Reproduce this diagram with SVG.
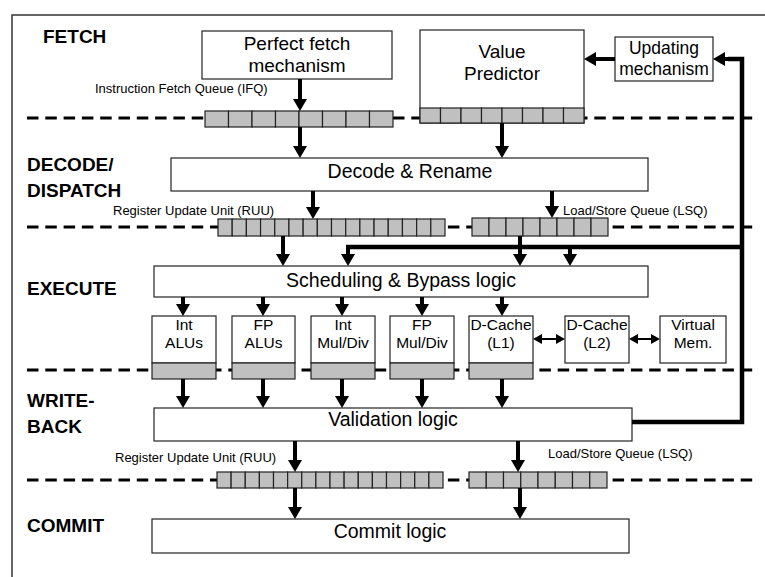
<svg xmlns="http://www.w3.org/2000/svg" width="765" height="577" viewBox="0 0 765 577">
<style>
.box{fill:#fff;stroke:#222;stroke-width:1.2}
.cell{fill:#c0c0c0;stroke:#222;stroke-width:1.2}
.dash{stroke:#000;stroke-width:3;stroke-dasharray:11.5 6.8;fill:none}
.arr{stroke:#000;stroke-width:4;fill:none;marker-end:url(#ah)}
.fb{stroke:#000;stroke-width:4.5;fill:none}
.dbl{stroke:#000;stroke-width:2;fill:none;marker-start:url(#sh);marker-end:url(#sh)}
.stage{font-family:"Liberation Sans",Arial,sans-serif;font-weight:bold;font-size:19px;fill:#000}
.big{font-family:"Liberation Sans",Arial,sans-serif;font-size:19px;fill:#000;text-anchor:middle}
.mid{font-family:"Liberation Sans",Arial,sans-serif;font-size:17.5px;fill:#000;text-anchor:middle}
.unit{font-family:"Liberation Sans",Arial,sans-serif;font-size:15.5px;fill:#000;text-anchor:middle}
.small{font-family:"Liberation Sans",Arial,sans-serif;font-size:13px;fill:#000}
</style>
<defs>
<marker id="ah" markerUnits="userSpaceOnUse" markerWidth="14" markerHeight="14" viewBox="0 0 12 14" refX="2" refY="7" orient="auto"><path d="M0,0 L12,7 L0,14 z" fill="#000"/></marker>
<marker id="sh" markerUnits="userSpaceOnUse" markerWidth="10" markerHeight="10" viewBox="0 0 9 10" refX="1" refY="5" orient="auto-start-reverse"><path d="M0,0 L9,5 L0,10 z" fill="#000"/></marker>
<g id="q8a"><rect class="cell" x="0" y="0" width="23.5" height="16"/></g>
</defs>

<path d="M12,577 L12,15 L765,15" fill="none" stroke="#333" stroke-width="1.5"/>

<g id="dividers">
<line class="dash" x1="27" y1="118" x2="757" y2="118"/>
<line class="dash" x1="27" y1="227" x2="757" y2="227"/>
<line class="dash" x1="27" y1="370" x2="757" y2="370"/>
<line class="dash" x1="27" y1="480" x2="757" y2="480"/>
</g>

<g id="stages">
<text class="stage" x="43" y="43">FETCH</text>
<text class="stage" x="27" y="171">DECODE/</text>
<text class="stage" x="27" y="197">DISPATCH</text>
<text class="stage" x="27" y="295">EXECUTE</text>
<text class="stage" x="27" y="407">WRITE-</text>
<text class="stage" x="27" y="433">BACK</text>
<text class="stage" x="27" y="532">COMMIT</text>
</g>

<g id="fetch">
<rect class="box" x="202" y="31" width="190" height="48"/>
<text class="big" x="297" y="50">Perfect fetch</text>
<text class="big" x="297" y="72">mechanism</text>
</g>

<g id="ifq">
<text class="small" x="95" y="93">Instruction Fetch Queue (IFQ)</text>
<rect class="cell" x="205" y="111" width="23.5" height="16"/>
<rect class="cell" x="228.5" y="111" width="23.5" height="16"/>
<rect class="cell" x="252" y="111" width="23.5" height="16"/>
<rect class="cell" x="275.5" y="111" width="23.5" height="16"/>
<rect class="cell" x="299" y="111" width="23.5" height="16"/>
<rect class="cell" x="322.5" y="111" width="23.5" height="16"/>
<rect class="cell" x="346" y="111" width="23.5" height="16"/>
<rect class="cell" x="369.5" y="111" width="23.5" height="16"/>
</g>

<g id="vp">
<rect class="box" x="420" y="30" width="164" height="93"/>
<text class="big" x="502" y="58">Value</text>
<text class="big" x="502" y="80">Predictor</text>
<rect class="cell" x="420" y="108" width="20.5" height="15"/>
<rect class="cell" x="440.5" y="108" width="20.5" height="15"/>
<rect class="cell" x="461" y="108" width="20.5" height="15"/>
<rect class="cell" x="481.5" y="108" width="20.5" height="15"/>
<rect class="cell" x="502" y="108" width="20.5" height="15"/>
<rect class="cell" x="522.5" y="108" width="20.5" height="15"/>
<rect class="cell" x="543" y="108" width="20.5" height="15"/>
<rect class="cell" x="563.5" y="108" width="20.5" height="15"/>
</g>

<g id="updating">
<rect class="box" x="615" y="37" width="98" height="44"/>
<text class="mid" x="664" y="54">Updating</text>
<text class="mid" x="664" y="75">mechanism</text>
</g>

<g id="decode">
<rect class="box" x="171" y="158" width="477" height="33"/>
<text class="big" x="410" y="178" style="font-size:19.5px">Decode &amp; Rename</text>
</g>

<g id="ruu1">
<text class="small" x="113" y="215">Register Update Unit (RUU)</text>
<rect class="cell" x="218" y="219" width="14.19" height="17"/>
<rect class="cell" x="232.19" y="219" width="14.19" height="17"/>
<rect class="cell" x="246.38" y="219" width="14.19" height="17"/>
<rect class="cell" x="260.56" y="219" width="14.19" height="17"/>
<rect class="cell" x="274.75" y="219" width="14.19" height="17"/>
<rect class="cell" x="288.94" y="219" width="14.19" height="17"/>
<rect class="cell" x="303.13" y="219" width="14.19" height="17"/>
<rect class="cell" x="317.31" y="219" width="14.19" height="17"/>
<rect class="cell" x="331.5" y="219" width="14.19" height="17"/>
<rect class="cell" x="345.69" y="219" width="14.19" height="17"/>
<rect class="cell" x="359.88" y="219" width="14.19" height="17"/>
<rect class="cell" x="374.06" y="219" width="14.19" height="17"/>
<rect class="cell" x="388.25" y="219" width="14.19" height="17"/>
<rect class="cell" x="402.44" y="219" width="14.19" height="17"/>
<rect class="cell" x="416.63" y="219" width="14.19" height="17"/>
<rect class="cell" x="430.81" y="219" width="14.19" height="17"/>
</g>

<g id="lsq1">
<text class="small" x="563" y="215">Load/Store Queue (LSQ)</text>
<rect class="cell" x="472" y="218" width="17" height="18"/>
<rect class="cell" x="489" y="218" width="17" height="18"/>
<rect class="cell" x="506" y="218" width="17" height="18"/>
<rect class="cell" x="523" y="218" width="17" height="18"/>
<rect class="cell" x="540" y="218" width="17" height="18"/>
<rect class="cell" x="557" y="218" width="17" height="18"/>
<rect class="cell" x="574" y="218" width="17" height="18"/>
<rect class="cell" x="591" y="218" width="17" height="18"/>
</g>

<g id="sched">
<rect class="box" x="154" y="266" width="494" height="31"/>
<text class="big" x="401" y="287" style="font-size:19.5px">Scheduling &amp; Bypass logic</text>
</g>

<g id="intalu">
<rect class="box" x="152" y="316" width="64" height="47"/>
<rect class="cell" x="152" y="363" width="64" height="16"/>
<text class="unit" x="184" y="330">Int</text>
<text class="unit" x="184" y="348">ALUs</text>
</g>
<g id="fpalu">
<rect class="box" x="232" y="316" width="63" height="47"/>
<rect class="cell" x="232" y="363" width="63" height="16"/>
<text class="unit" x="263.5" y="330">FP</text>
<text class="unit" x="263.5" y="348">ALUs</text>
</g>
<g id="intmul">
<rect class="box" x="311" y="316" width="64" height="47"/>
<rect class="cell" x="311" y="363" width="64" height="16"/>
<text class="unit" x="343" y="330">Int</text>
<text class="unit" x="343" y="348">Mul/Div</text>
</g>
<g id="fpmul">
<rect class="box" x="390" y="316" width="64" height="47"/>
<rect class="cell" x="390" y="363" width="64" height="16"/>
<text class="unit" x="422" y="330">FP</text>
<text class="unit" x="422" y="348">Mul/Div</text>
</g>
<g id="dl1">
<rect class="box" x="469" y="316" width="64" height="47"/>
<rect class="cell" x="469" y="363" width="64" height="16"/>
<text class="unit" x="501" y="330">D-Cache</text>
<text class="unit" x="501" y="348">(L1)</text>
</g>
<g id="dl2">
<rect class="box" x="565" y="316" width="64" height="47"/>
<text class="unit" x="597" y="330">D-Cache</text>
<text class="unit" x="597" y="348">(L2)</text>
</g>
<g id="vmem">
<rect class="box" x="660" y="316" width="66" height="47"/>
<text class="unit" x="693" y="330">Virtual</text>
<text class="unit" x="693" y="348">Mem.</text>
</g>

<g id="valid">
<rect class="box" x="154" y="408" width="478" height="33"/>
<text class="big" x="393" y="426" style="font-size:19.5px">Validation logic</text>
</g>

<g id="ruu2">
<text class="small" x="115" y="462">Register Update Unit (RUU)</text>
<rect class="cell" x="217" y="472" width="14.13" height="16"/>
<rect class="cell" x="231.13" y="472" width="14.13" height="16"/>
<rect class="cell" x="245.25" y="472" width="14.13" height="16"/>
<rect class="cell" x="259.38" y="472" width="14.13" height="16"/>
<rect class="cell" x="273.5" y="472" width="14.13" height="16"/>
<rect class="cell" x="287.63" y="472" width="14.13" height="16"/>
<rect class="cell" x="301.75" y="472" width="14.13" height="16"/>
<rect class="cell" x="315.88" y="472" width="14.13" height="16"/>
<rect class="cell" x="330" y="472" width="14.13" height="16"/>
<rect class="cell" x="344.13" y="472" width="14.13" height="16"/>
<rect class="cell" x="358.25" y="472" width="14.13" height="16"/>
<rect class="cell" x="372.38" y="472" width="14.13" height="16"/>
<rect class="cell" x="386.5" y="472" width="14.13" height="16"/>
<rect class="cell" x="400.63" y="472" width="14.13" height="16"/>
<rect class="cell" x="414.75" y="472" width="14.13" height="16"/>
<rect class="cell" x="428.88" y="472" width="14.13" height="16"/>
</g>

<g id="lsq2">
<text class="small" x="548" y="458">Load/Store Queue (LSQ)</text>
<rect class="cell" x="469" y="472" width="17.25" height="16"/>
<rect class="cell" x="486.25" y="472" width="17.25" height="16"/>
<rect class="cell" x="503.5" y="472" width="17.25" height="16"/>
<rect class="cell" x="520.75" y="472" width="17.25" height="16"/>
<rect class="cell" x="538" y="472" width="17.25" height="16"/>
<rect class="cell" x="555.25" y="472" width="17.25" height="16"/>
<rect class="cell" x="572.5" y="472" width="17.25" height="16"/>
<rect class="cell" x="589.75" y="472" width="17.25" height="16"/>
</g>

<g id="commit">
<rect class="box" x="152" y="519" width="477" height="34"/>
<text class="big" x="390" y="538" style="font-size:19.5px">Commit logic</text>
</g>

<g id="connectors">
<line class="arr" x1="300" y1="79" x2="300" y2="101"/>
<line class="arr" x1="300" y1="127" x2="300" y2="148"/>
<line class="arr" x1="502" y1="123" x2="502" y2="148"/>
<line class="arr" x1="313" y1="191" x2="313" y2="209"/>
<line class="arr" x1="552" y1="191" x2="552" y2="208"/>
<line class="arr" x1="283" y1="236" x2="283" y2="256"/>
<line class="arr" x1="520" y1="236" x2="520" y2="256"/>
<line class="arr" x1="348" y1="247" x2="348" y2="256"/>
<line class="arr" x1="570" y1="247" x2="570" y2="256"/>
<line class="arr" x1="183" y1="297" x2="183" y2="306"/>
<line class="arr" x1="263" y1="297" x2="263" y2="306"/>
<line class="arr" x1="342" y1="297" x2="342" y2="306"/>
<line class="arr" x1="422" y1="297" x2="422" y2="306"/>
<line class="arr" x1="502" y1="297" x2="502" y2="306"/>
<line class="arr" x1="183" y1="379" x2="183" y2="398"/>
<line class="arr" x1="263" y1="379" x2="263" y2="398"/>
<line class="arr" x1="342" y1="379" x2="342" y2="398"/>
<line class="arr" x1="422" y1="379" x2="422" y2="398"/>
<line class="arr" x1="502" y1="379" x2="502" y2="398"/>
<line class="arr" x1="295" y1="441" x2="295" y2="462"/>
<line class="arr" x1="295" y1="488" x2="295" y2="509"/>
<line class="arr" x1="518" y1="441" x2="518" y2="462"/>
<line class="arr" x1="520" y1="488" x2="520" y2="509"/>
<line class="arr" x1="615" y1="59" x2="594" y2="59"/>
<line class="dbl" x1="541" y1="339" x2="557" y2="339"/>
<line class="dbl" x1="637" y1="339" x2="652" y2="339"/>
<path class="fb" d="M632,422 L742,422 L742,59 L728,59"/>
<line class="arr" x1="730" y1="59" x2="723" y2="59"/>
<path class="fb" d="M346,247 L742,247"/>
</g>
</svg>
